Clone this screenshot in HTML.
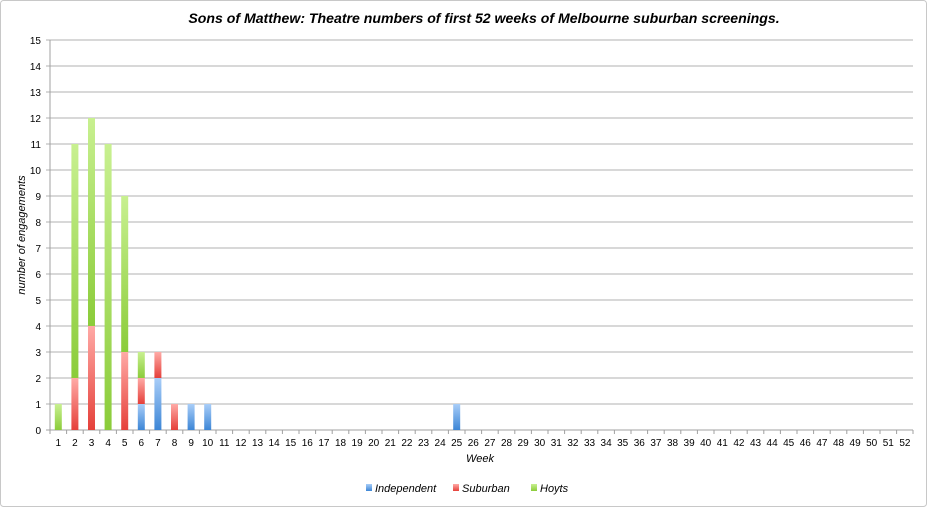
<!DOCTYPE html>
<html><head><meta charset="utf-8"><style>
html,body{margin:0;padding:0;background:#fff;}
svg{display:block;font-family:"Liberation Sans",sans-serif;}
</style></head><body>
<svg width="927" height="507" viewBox="0 0 927 507">
<defs>
<linearGradient id="gI" x1="0" y1="0" x2="0" y2="1"><stop offset="0" stop-color="#a8cdf8"/><stop offset="1" stop-color="#3d86d6"/></linearGradient>
<linearGradient id="gS" x1="0" y1="0" x2="0" y2="1"><stop offset="0" stop-color="#ffaaa6"/><stop offset="1" stop-color="#e5403a"/></linearGradient>
<linearGradient id="gH" x1="0" y1="0" x2="0" y2="1"><stop offset="0" stop-color="#c8f090"/><stop offset="1" stop-color="#8bcc3a"/></linearGradient>
</defs>
<rect x="0.5" y="0.5" width="926" height="506" rx="3" fill="#fff" stroke="#c8c8c8"/>
<text x="484" y="23" text-anchor="middle" font-size="14.1" font-weight="bold" font-style="italic" fill="#000">Sons of Matthew: Theatre numbers of first 52 weeks of Melbourne suburban screenings.</text>
<g stroke="#c0c0c0" stroke-width="1.3">
<line x1="46" x2="913" y1="40" y2="40"/><line x1="46" x2="913" y1="66" y2="66"/><line x1="46" x2="913" y1="92" y2="92"/><line x1="46" x2="913" y1="118" y2="118"/><line x1="46" x2="913" y1="144" y2="144"/><line x1="46" x2="913" y1="170" y2="170"/><line x1="46" x2="913" y1="196" y2="196"/><line x1="46" x2="913" y1="222" y2="222"/><line x1="46" x2="913" y1="248" y2="248"/><line x1="46" x2="913" y1="274" y2="274"/><line x1="46" x2="913" y1="300" y2="300"/><line x1="46" x2="913" y1="326" y2="326"/><line x1="46" x2="913" y1="352" y2="352"/><line x1="46" x2="913" y1="378" y2="378"/><line x1="46" x2="913" y1="404" y2="404"/>
</g>
<line x1="50" x2="50" y1="40" y2="430" stroke="#a0a0a0"/>
<line x1="46" x2="913" y1="430" y2="430" stroke="#a0a0a0"/>
<g font-size="10" text-anchor="end" fill="#000">
<text x="41" y="44">15</text><text x="41" y="70">14</text><text x="41" y="96">13</text><text x="41" y="122">12</text><text x="41" y="148">11</text><text x="41" y="174">10</text><text x="41" y="200">9</text><text x="41" y="226">8</text><text x="41" y="252">7</text><text x="41" y="278">6</text><text x="41" y="304">5</text><text x="41" y="330">4</text><text x="41" y="356">3</text><text x="41" y="382">2</text><text x="41" y="408">1</text><text x="41" y="434">0</text>
</g>
<text transform="translate(25,235) rotate(-90)" text-anchor="middle" font-size="11" font-style="italic">number of engagements</text>
<g>
<rect x="54.8" y="404" width="7" height="26" fill="url(#gH)"/>
<rect x="71.4" y="378" width="7" height="52" fill="url(#gS)"/><rect x="71.4" y="144" width="7" height="234" fill="url(#gH)"/>
<rect x="88" y="326" width="7" height="104" fill="url(#gS)"/><rect x="88" y="118" width="7" height="208" fill="url(#gH)"/>
<rect x="104.6" y="144" width="7" height="286" fill="url(#gH)"/>
<rect x="121.2" y="352" width="7" height="78" fill="url(#gS)"/><rect x="121.2" y="196" width="7" height="156" fill="url(#gH)"/>
<rect x="137.8" y="404" width="7" height="26" fill="url(#gI)"/><rect x="137.8" y="378" width="7" height="26" fill="url(#gS)"/><rect x="137.8" y="352" width="7" height="26" fill="url(#gH)"/>
<rect x="154.4" y="378" width="7" height="52" fill="url(#gI)"/><rect x="154.4" y="352" width="7" height="26" fill="url(#gS)"/>
<rect x="171" y="404" width="7" height="26" fill="url(#gS)"/>
<rect x="187.6" y="404" width="7" height="26" fill="url(#gI)"/>
<rect x="204.2" y="404" width="7" height="26" fill="url(#gI)"/>
<rect x="453.2" y="404" width="7" height="26" fill="url(#gI)"/>
</g>
<path stroke="#a0a0a0" d="M50,430v4M66.6,430v4M83.2,430v4M99.8,430v4M116.4,430v4M133,430v4M149.6,430v4M166.2,430v4M182.8,430v4M199.4,430v4M216,430v4M232.6,430v4M249.2,430v4M265.8,430v4M282.4,430v4M299,430v4M315.6,430v4M332.2,430v4M348.8,430v4M365.4,430v4M382,430v4M398.6,430v4M415.2,430v4M431.8,430v4M448.4,430v4M465,430v4M481.6,430v4M498.2,430v4M514.8,430v4M531.4,430v4M548,430v4M564.6,430v4M581.2,430v4M597.8,430v4M614.4,430v4M631,430v4M647.6,430v4M664.2,430v4M680.8,430v4M697.4,430v4M714,430v4M730.6,430v4M747.2,430v4M763.8,430v4M780.4,430v4M797,430v4M813.6,430v4M830.2,430v4M846.8,430v4M863.4,430v4M880,430v4M896.6,430v4M913,430v4"/>
<g font-size="10" text-anchor="middle" fill="#000">
<text x="58.3" y="446">1</text><text x="74.9" y="446">2</text><text x="91.5" y="446">3</text><text x="108.1" y="446">4</text><text x="124.7" y="446">5</text><text x="141.3" y="446">6</text><text x="157.9" y="446">7</text><text x="174.5" y="446">8</text><text x="191.1" y="446">9</text><text x="207.7" y="446">10</text><text x="224.3" y="446">11</text><text x="240.9" y="446">12</text><text x="257.5" y="446">13</text><text x="274.1" y="446">14</text><text x="290.7" y="446">15</text><text x="307.3" y="446">16</text><text x="323.9" y="446">17</text><text x="340.5" y="446">18</text><text x="357.1" y="446">19</text><text x="373.7" y="446">20</text><text x="390.3" y="446">21</text><text x="406.9" y="446">22</text><text x="423.5" y="446">23</text><text x="440.1" y="446">24</text><text x="456.7" y="446">25</text><text x="473.3" y="446">26</text><text x="489.9" y="446">27</text><text x="506.5" y="446">28</text><text x="523.1" y="446">29</text><text x="539.7" y="446">30</text><text x="556.3" y="446">31</text><text x="572.9" y="446">32</text><text x="589.5" y="446">33</text><text x="606.1" y="446">34</text><text x="622.7" y="446">35</text><text x="639.3" y="446">36</text><text x="655.9" y="446">37</text><text x="672.5" y="446">38</text><text x="689.1" y="446">39</text><text x="705.7" y="446">40</text><text x="722.3" y="446">41</text><text x="738.9" y="446">42</text><text x="755.5" y="446">43</text><text x="772.1" y="446">44</text><text x="788.7" y="446">45</text><text x="805.3" y="446">46</text><text x="821.9" y="446">47</text><text x="838.5" y="446">48</text><text x="855.1" y="446">49</text><text x="871.7" y="446">50</text><text x="888.3" y="446">51</text><text x="904.9" y="446">52</text>
</g>
<text x="480" y="462" text-anchor="middle" font-size="11" font-style="italic">Week</text>
<g font-size="11" font-style="italic">
<rect x="366" y="484" width="6" height="7" fill="url(#gI)"/><text x="375" y="492">Independent</text>
<rect x="453" y="484" width="6" height="7" fill="url(#gS)"/><text x="462" y="492">Suburban</text>
<rect x="531" y="484" width="6" height="7" fill="url(#gH)"/><text x="540" y="492">Hoyts</text>
</g>
</svg>
</body></html>
